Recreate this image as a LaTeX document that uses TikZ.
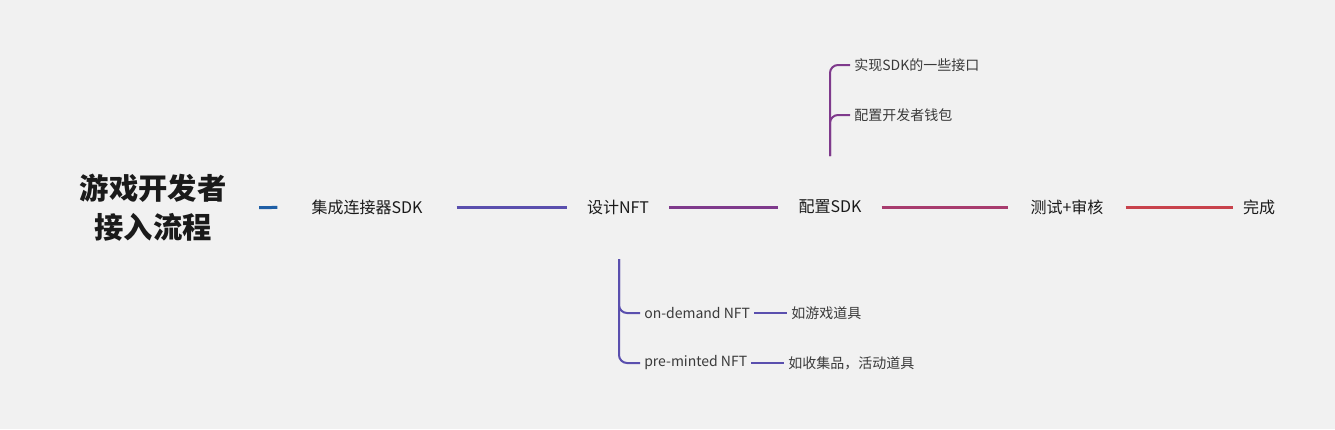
\documentclass[tikz,border=0pt]{standalone}
\usepackage{fontspec}
\setmainfont{Noto Sans CJK SC}
\definecolor{bgcol}{HTML}{F1F1F1}
\definecolor{lineA}{HTML}{1F5FA6}
\definecolor{lineB}{HTML}{5A4FAE}
\definecolor{lineC}{HTML}{7F3A8C}
\definecolor{lineD}{HTML}{A83C6E}
\definecolor{lineE}{HTML}{C8424C}
\definecolor{txtmain}{HTML}{1A1A1A}
\definecolor{txtsub}{HTML}{3A3A3A}

\begin{document}
\begin{tikzpicture}[x=0.75pt, y=-0.75pt,
  mainlbl/.style={font=\fontsize{12}{14}\selectfont, text=txtmain, inner sep=0pt},
  sublbl/.style={font=\fontsize{10.5}{12}\selectfont, text=txtsub, inner sep=3pt, anchor=west},
  trunk/.style={line width=2.25pt},
  twig/.style={line width=1.5pt, rounded corners=6pt}]

\fill[bgcol] (0,0) rectangle (1335,429);
\useasboundingbox (0,0) rectangle (1335,429);

\node[font=\fontsize{22}{29}\selectfont\bfseries, text=txtmain, align=center] (root) at (153,208) {游戏开发者\\接入流程};
\node[mainlbl] (sdk) at (367,207) {集成连接器SDK};
\node[mainlbl] (nft) at (618,207) {设计NFT};
\node[mainlbl] (cfg) at (830,207) {配置SDK};
\node[mainlbl] (test) at (1067,207) {测试+审核};
\node[mainlbl] (done) at (1259,207) {完成};

% trunk ends sit a little off the label borders
\draw[trunk, lineA, shorten <=21pt, shorten >=25.5pt] (root.east) -- (sdk.west);
\draw[trunk, lineB, shorten <=25.5pt, shorten >=15pt] (sdk) -- (nft);
\draw[trunk, lineC, shorten <=15pt, shorten >=15pt] (nft) -- (cfg);
\draw[trunk, lineD, shorten <=15pt, shorten >=16.5pt] (cfg) -- (test);
\draw[trunk, lineE, shorten <=16.5pt, shorten >=7.5pt] (test) -- (done);

\coordinate (nftfoot) at (619,259);
\coordinate (cfgtop) at (830,156);

\node[sublbl] (ondemand) at (640,313) {on-demand NFT};
\node[sublbl] (premint) at (640,363) {pre-minted NFT};
\node[sublbl] (gameitem) at (787,313) {如游戏道具};
\node[sublbl] (collect) at (784,363) {如收集品，活动道具};

\draw[twig, lineB] (nftfoot) |- (ondemand.west);
\draw[twig, lineB] (nftfoot) |- (premint.west);
\draw[twig, lineB] (ondemand) -- (gameitem);
\draw[twig, lineB] (premint) -- (collect);

\node[sublbl] (impl) at (850,65) {实现SDK的一些接口};
\node[sublbl] (wallet) at (850,115) {配置开发者钱包};

\draw[twig, lineC] (cfgtop) |- (impl.west);
\draw[twig, lineC] (cfgtop) |- (wallet.west);

\end{tikzpicture}
\end{document}
